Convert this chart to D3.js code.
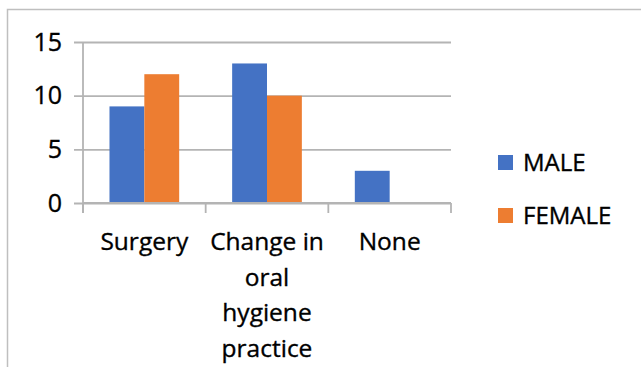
<!DOCTYPE html>
<html>
<head>
<meta charset="utf-8">
<script src="https://cdn.jsdelivr.net/npm/d3@7"></script>
<style>
  html, body { margin: 0; padding: 0; background: #fff; }
  svg { display: block; font-family: "Open Sans", "Noto Sans", sans-serif; }
  svg text { stroke: #000; stroke-width: 0.35px; }
</style>
</head>
<body>
<svg id="chart" width="641" height="367"></svg>
<script>
// Treatment responses by sex
const categories = ["Surgery", "Change in oral hygiene practice", "None"];
const seriesNames = ["MALE", "FEMALE"];
const maleValues = [9, 13, 3];
const femaleValues = [12, 10, 0];
const yTicks = [0, 5, 10, 15];
const colors = ["#4472C4", "#ED7D31"];

const rows = categories.map((c, i) => ({ category: c, values: [maleValues[i], femaleValues[i]] }));

const svg = d3.select("#chart");
const lineColor = "#b4b4b4";

// outer frame (open on the right and bottom)
svg.append("path")
  .attr("d", "M7.5,367 V9.5 H641")
  .attr("fill", "none")
  .attr("stroke", "#bfbfbf")
  .attr("stroke-width", 1.5);

const plot = { left: 83, right: 451, top: 42, bottom: 203 };

const y = d3.scaleLinear().domain([0, 15]).range([plot.bottom, plot.top]);
const x0 = d3.scaleBand().domain(categories).range([plot.left, plot.right]).paddingInner(0).paddingOuter(0);
const x1 = d3.scaleBand().domain(seriesNames).range([0, x0.bandwidth()]).paddingInner(0).paddingOuter(0.76);

// horizontal gridlines with outward ticks
const yAxis = d3.axisLeft(y).tickValues(yTicks).tickSize(-(plot.right - plot.left)).tickPadding(21);
const gy = svg.append("g").attr("transform", `translate(${plot.left},0)`).call(yAxis);
gy.select(".domain").remove();
gy.selectAll(".tick line")
  .attr("x1", -9)
  .attr("stroke", lineColor)
  .attr("stroke-width", 1.8);
gy.selectAll(".tick text")
  .attr("font-size", 25)
  .attr("fill", "#000")
  .attr("font-family", "'Open Sans', sans-serif");

// vertical axis line
svg.append("line")
  .attr("x1", plot.left).attr("x2", plot.left)
  .attr("y1", plot.top).attr("y2", plot.bottom + 10)
  .attr("stroke", lineColor).attr("stroke-width", 1.8);

// bars
const groups = svg.append("g").selectAll("g")
  .data(rows).join("g")
  .attr("transform", d => `translate(${x0(d.category)},0)`);
groups.selectAll("rect")
  .data(d => d.values.map((v, i) => ({ key: seriesNames[i], value: v, color: colors[i] })))
  .join("rect")
  .attr("x", d => x1(d.key))
  .attr("width", x1.bandwidth())
  .attr("y", d => y(d.value))
  .attr("height", d => y(0) - y(d.value))
  .attr("fill", d => d.color);

// category axis
svg.append("line")
  .attr("x1", plot.left).attr("x2", plot.right)
  .attr("y1", plot.bottom).attr("y2", plot.bottom)
  .attr("stroke", lineColor).attr("stroke-width", 1.8);

// category separators
const bounds = categories.map(c => x0(c)).concat([plot.right]);
svg.append("g").selectAll("line")
  .data(bounds).join("line")
  .attr("x1", d => d).attr("x2", d => d)
  .attr("y1", plot.bottom).attr("y2", plot.bottom + 10)
  .attr("stroke", lineColor).attr("stroke-width", 1.8);

// wrapped category labels
const labelG = svg.append("g");
const lineHeight = 35.5;
categories.forEach(c => {
  const cx = x0(c) + x0.bandwidth() / 2;
  const t = labelG.append("text")
    .attr("x", cx)
    .attr("y", 250)
    .attr("text-anchor", "middle")
    .attr("font-size", 24.5)
    .attr("fill", "#000");
  const words = c.split(" ");
  let line = [];
  let tspan = t.append("tspan").attr("x", cx).attr("dy", 0);
  words.forEach(w => {
    line.push(w);
    tspan.text(line.join(" "));
    if (tspan.node().getComputedTextLength() > x0.bandwidth() - 4 && line.length > 1) {
      line.pop();
      tspan.text(line.join(" "));
      line = [w];
      tspan = t.append("tspan").attr("x", cx).attr("dy", lineHeight).text(w);
    }
  });
});

// legend
const legend = svg.append("g").selectAll("g")
  .data(seriesNames).join("g")
  .attr("transform", (d, i) => `translate(498,${155 + i * 53})`);
legend.append("rect")
  .attr("width", 15).attr("height", 15)
  .attr("fill", (d, i) => colors[i]);
legend.append("text")
  .attr("x", 25).attr("y", 16)
  .attr("font-size", 24)
  .attr("fill", "#000")
  .text(d => d);
</script>
</body>
</html>
